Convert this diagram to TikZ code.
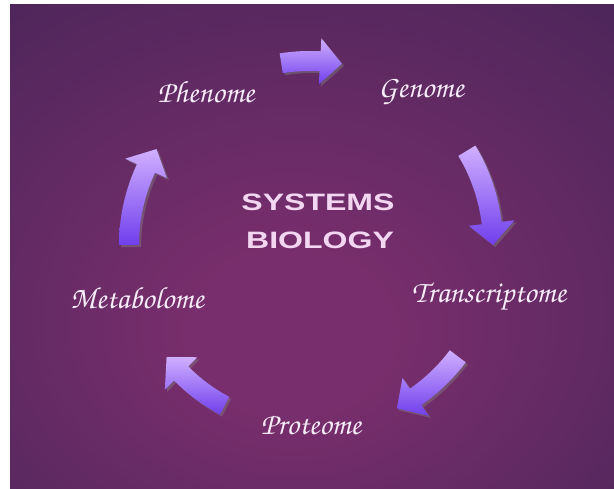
\documentclass[tikz,border=0pt]{standalone}
\usepackage[T1,TU]{fontenc}
\usepackage{fontspec}
\setsansfont{Liberation Sans}
\usepackage{xcolor}
\definecolor{bgedge}{RGB}{56,34,82}
\definecolor{bgmid}{RGB}{120,46,108}
\definecolor{arrowlight}{RGB}{208,176,255}
\definecolor{arrowdark}{RGB}{112,62,236}
\definecolor{labelwhite}{RGB}{246,236,248}
\definecolor{titlepink}{RGB}{242,214,242}
\usepackage{tikz}
\usetikzlibrary{shadows}

\pgfdeclareradialshading{bgglow}{\pgfpoint{-2bp}{-10bp}}{color(0bp)=(bgmid); color(8bp)=(bgmid); color(55bp)=(bgedge); color(80bp)=(bgedge)}

\tikzset{
  omelabel/.style={font=\fontsize{17.5}{20}\usefont{T1}{pzc}{mb}{it}, text=labelwhite},
  titleline/.style={font=\sffamily\bfseries\fontsize{13.5}{15}\selectfont, text=titlepink, xscale=1.35},
  arrowbody/.style={top color=arrowlight, bottom color=arrowdark,
    drop shadow={opacity=0.45, shadow xshift=1.2pt, shadow yshift=-1.2pt}}
}

% curved block arrow: tail angle, tip angle, radius
\newcommand{\cyclearrow}[3]{%
  \pgfmathsetmacro\arhead{#2+22/#3*57.2958}
  \pgfmathsetmacro\arout{#3+10}
  \pgfmathsetmacro\arin{#3-10}
  \pgfmathsetmacro\arwout{#3+23}
  \pgfmathsetmacro\arwin{#3-23}
  \shade[arrowbody] (#1:\arout) arc[start angle=#1, end angle=\arhead, radius=\arout]
    -- (\arhead:\arwout) -- (#2:#3) -- (\arhead:\arwin) -- (\arhead:\arin)
    arc[start angle=\arhead, end angle=#1, radius=\arin] -- cycle;}

\begin{document}
\begin{tikzpicture}[x=0.2mm, y=0.2mm]
  \useasboundingbox (0,0) rectangle (614,489);
  \fill[white] (0,0) rectangle (614,489);
  \shade[shading=bgglow] (10,0) rectangle (614,484);

  % title
  \node[titleline] (systems) at (318,287) {SYSTEMS};
  \node[titleline] (biology) at (320,249) {BIOLOGY};

  % omics around the cycle
  \node[omelabel] (phenome) at (206,397) {Phenome};
  \node[omelabel] (genome) at (421,397) {Genome};
  \node[omelabel] (transcriptome) at (489,192) {Transcriptome};
  \node[omelabel] (proteome) at (311,64) {Proteome};
  \node[omelabel] (metabolome) at (137,191) {Metabolome};

  % arrows
  \begin{scope}[shift={(310,244)}]
    \cyclearrow{99}{80}{184}
    \cyclearrow{31}{0}{183}
    \cyclearrow{-37}{-62}{185}
    \cyclearrow{-118}{-142}{182}
    \cyclearrow{180}{148}{181}
  \end{scope}
\end{tikzpicture}
\end{document}
